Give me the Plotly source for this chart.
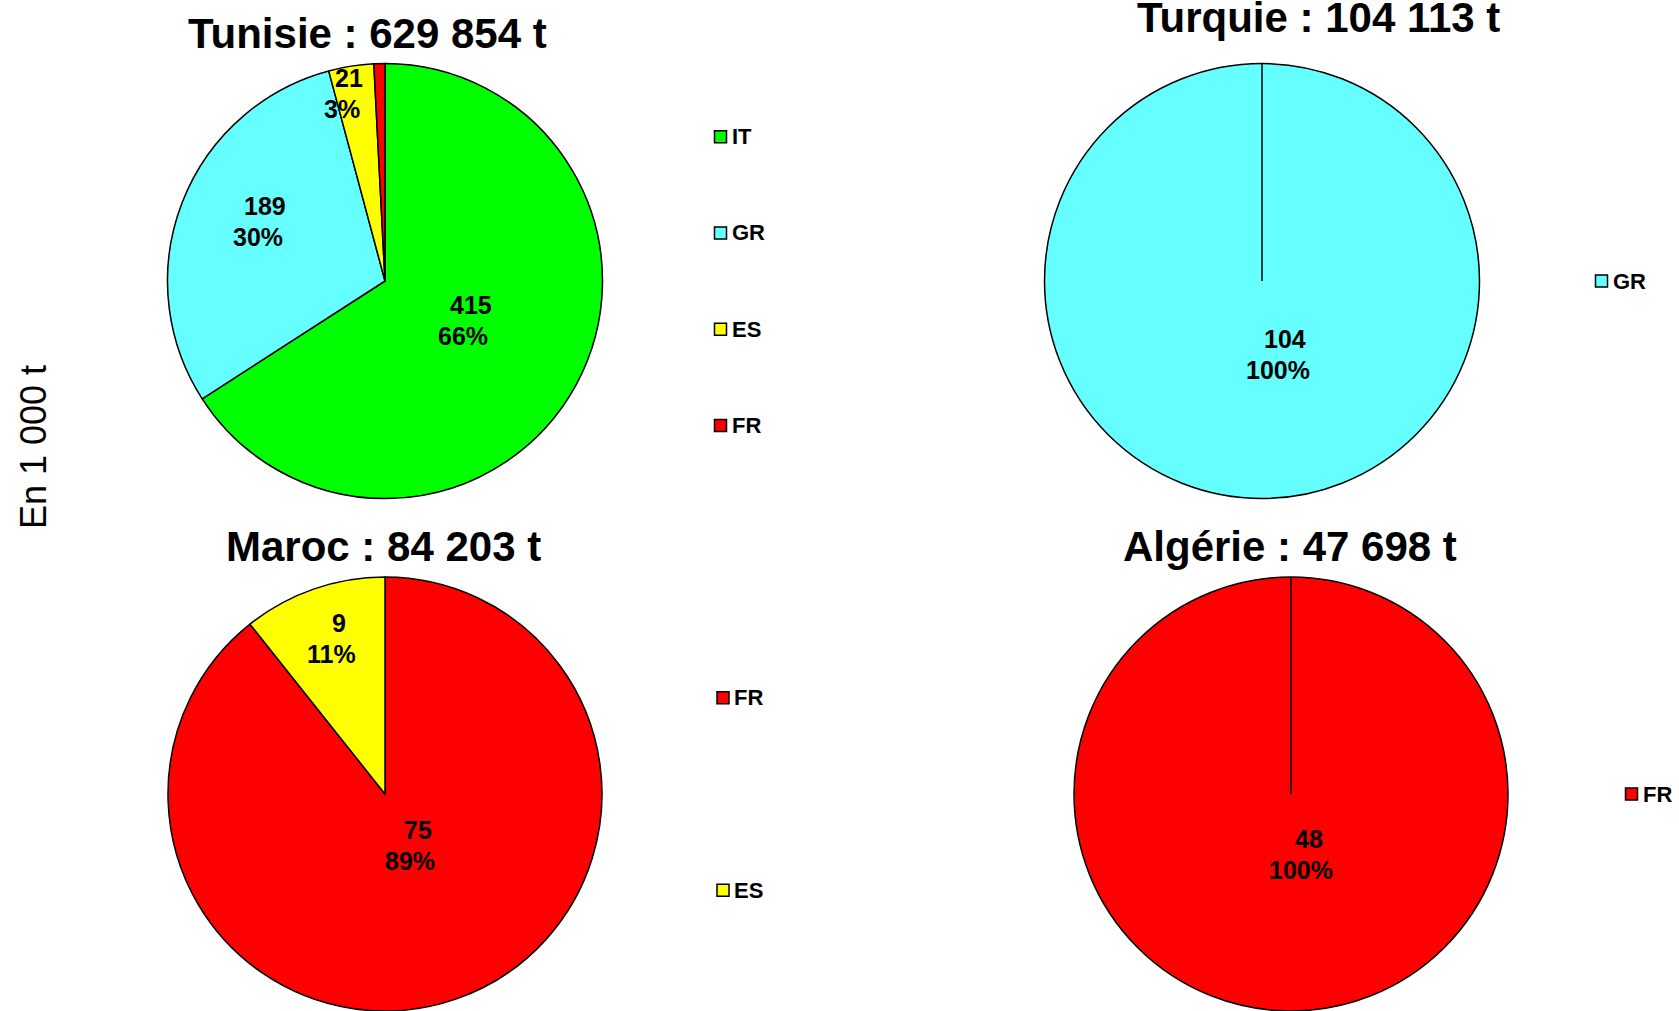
import math
import plotly.graph_objects as go

W, H = 1679, 1011

# ---------------- data ----------------
tunisie_labels = ["IT", "GR", "ES", "FR"]
tunisie_values = [415.0, 188.6, 21.1, 5.15]          # en 1 000 t
turquie_labels = ["GR"]
turquie_values = [104.113]
maroc_labels = ["FR", "ES"]
maroc_values = [75.2, 9.0]
algerie_labels = ["FR"]
algerie_values = [47.698]

titles = ["Tunisie : 629 854 t", "Turquie : 104 113 t", "Maroc : 84 203 t", "Algérie : 47 698 t"]
axis_title = "En 1 000 t"

COLORS = {"IT": "#00FF00", "GR": "#66FFFF", "ES": "#FFFF00", "FR": "#FF0000"}

# ---------------- layout / style (pixels) ----------------
# lab_r: label distance from centre (fraction of radius); lab_da: angular nudge (deg)
charts = [
    dict(labels=tunisie_labels, values=tunisie_values, cx=385, cy=281, r=217.5,
         title_xy=(367, 33), leg_x=720.5,
         lab_r=[0.418, 0.63, 0.88, 0.0], lab_da=[-3, 4.5, -3, 0]),
    dict(labels=turquie_labels, values=turquie_values, cx=1262, cy=281, r=217.5,
         title_xy=(1318, 18), leg_x=1601.5,
         lab_r=[0.35], lab_da=[-15]),
    dict(labels=maroc_labels, values=maroc_values, cx=385, cy=794, r=217,
         title_xy=(383, 546), leg_x=723,
         lab_r=[0.274, 0.75], lab_da=[-10, 1.5]),
    dict(labels=algerie_labels, values=algerie_values, cx=1291, cy=794, r=217,
         title_xy=(1290, 546), leg_x=1631.5,
         lab_r=[0.285], lab_da=[-13]),
]
LEG_SPAN = 385
LINE_GAP = 15.5
LINE_SHIFT = 3.75
FONT = "Liberation Sans, Arial, Helvetica, sans-serif"


def px(x):
    return x / W


def py(y):
    return 1 - y / H


fig = go.Figure()
annotations = []
shapes = []

for ch, title in zip(charts, titles):
    cx, cy, r = ch["cx"], ch["cy"], ch["r"]
    labels, values = ch["labels"], ch["values"]
    fig.add_trace(go.Pie(
        labels=labels, values=values, sort=False, direction="clockwise", rotation=0,
        marker=dict(colors=[COLORS[l] for l in labels], line=dict(color="black", width=1.5)),
        textinfo="none", showlegend=False, hoverinfo="label+value+percent",
        domain=dict(x=[px(cx - r), px(cx + r)], y=[py(cy + r), py(cy - r)]),
    ))
    # slice labels, placed near the slice bisector
    total = sum(values)
    start = 0.0
    for lab, v, f, da in zip(labels, values, ch["lab_r"], ch["lab_da"]):
        frac = v / total
        mid = (start + frac / 2) * 2 * math.pi + math.radians(da)
        start += frac
        if f <= 0:
            continue
        lx = cx + math.sin(mid) * f * r
        ly = cy - math.cos(mid) * f * r
        for txt, dx, dy in ((f"<b>{round(v)}</b>", LINE_SHIFT, -LINE_GAP),
                            (f"<b>{round(frac * 100)}%</b>", -LINE_SHIFT, LINE_GAP)):
            annotations.append(dict(
                x=px(lx + dx), y=py(ly + dy), xref="paper", yref="paper", showarrow=False,
                text=txt, font=dict(family=FONT, size=25, color="black"),
                xanchor="center", yanchor="middle",
            ))
    # single-slice radial line
    if len(values) == 1:
        shapes.append(dict(type="line", xref="paper", yref="paper",
                           x0=px(cx), y0=py(cy), x1=px(cx), y1=py(cy - r),
                           line=dict(color="black", width=1.5)))
    # title
    tx, ty = ch["title_xy"]
    annotations.append(dict(
        x=px(tx), y=py(ty), xref="paper", yref="paper", showarrow=False,
        text=f"<b>{title}</b>", font=dict(family=FONT, size=42, color="black"),
        xanchor="center", yanchor="middle",
    ))
    # legend
    n = len(labels)
    step = LEG_SPAN / n
    for i, lab in enumerate(labels):
        y = cy + (i - (n - 1) / 2) * step
        x = ch["leg_x"]
        shapes.append(dict(type="rect", xref="paper", yref="paper",
                           x0=px(x - 6), x1=px(x + 6), y0=py(y + 6), y1=py(y - 6),
                           fillcolor=COLORS[lab], line=dict(color="black", width=1.5)))
        annotations.append(dict(
            x=px(x + 9), y=py(y), xref="paper", yref="paper", showarrow=False,
            text=f"<b>{lab}</b>", font=dict(family=FONT, size=22, color="black"),
            xanchor="left", yanchor="middle",
        ))

annotations.append(dict(
    x=px(33), y=py(447), xref="paper", yref="paper", showarrow=False,
    text=axis_title, textangle=-90, font=dict(family=FONT, size=36, color="black"),
    xanchor="center", yanchor="middle",
))

fig.update_layout(
    width=W, height=H, margin=dict(l=0, r=0, t=0, b=0),
    paper_bgcolor="white", plot_bgcolor="white",
    annotations=annotations, shapes=shapes,
    font=dict(family=FONT),
)

fig.write_html("out.html", config={"displayModeBar": False},
               post_script="document.body.style.margin='0';document.body.style.overflow='hidden';")
